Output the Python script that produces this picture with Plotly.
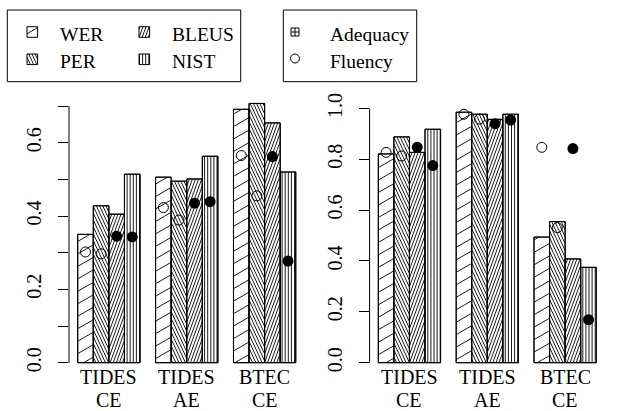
import math
import plotly.graph_objects as go

W, H = 617, 411
FONT = "Liberation Serif"

# ---------------- data ----------------
groups_line1 = ["TIDES", "TIDES", "BTEC"]
groups_line2 = ["CE", "AE", "CE"]
metrics = ["WER", "PER", "BLEUS", "NIST"]

left_wer = [0.350, 0.506, 0.691]
left_per = [0.428, 0.495, 0.707]
left_bleus = [0.405, 0.501, 0.654]
left_nist = [0.514, 0.563, 0.520]
left_open_wer = [0.302, 0.423, 0.565]
left_open_per = [0.297, 0.389, 0.455]
left_filled_bleus = [0.345, 0.435, 0.562]
left_filled_nist = [0.343, 0.439, 0.277]

right_wer = [0.821, 0.985, 0.494]
right_per = [0.888, 0.977, 0.555]
right_bleus = [0.827, 0.957, 0.408]
right_nist = [0.918, 0.977, 0.375]
right_open_wer = [0.827, 0.977, 0.847]
right_open_per = [0.813, 0.958, 0.531]
right_filled_bleus = [0.847, 0.940, 0.842]
right_filled_nist = [0.775, 0.954, 0.169]

left_yticks = [0.0, 0.1, 0.2, 0.3, 0.4, 0.5, 0.6, 0.7]
left_yticklabels = ["0.0", "", "0.2", "", "0.4", "", "0.6", ""]
right_yticks = [0.0, 0.2, 0.4, 0.6, 0.8, 1.0]
right_yticklabels = ["0.0", "0.2", "0.4", "0.6", "0.8", "1.0"]

legend_metrics = ["WER", "PER", "BLEUS", "NIST"]
legend_points = ["Adequacy", "Fluency"]

# ---------------- styles ----------------
# hatch: (angle in degrees, perpendicular spacing in px)
hatch = {"WER": (30, 10.8), "PER": (-65, 2.9), "BLEUS": (70, 2.9), "NIST": (90, 3.1)}


def hatch_segments(x0, x1, y0, y1, angle, spacing):
    """segments in pixel space (y up) filling rectangle."""
    th = math.radians(angle)
    d = (math.cos(th), math.sin(th))
    n = (-math.sin(th), math.cos(th))
    cs = [cx * n[0] + cy * n[1] for cx in (x0, x1) for cy in (y0, y1)]
    kmin = math.ceil(min(cs) / spacing)
    kmax = math.floor(max(cs) / spacing)
    segs = []
    for k in range(kmin, kmax + 1):
        c = k * spacing
        p = (c * n[0], c * n[1])
        tmin, tmax = -1e9, 1e9
        ok = True
        for a, lo, hi in ((0, x0, x1), (1, y0, y1)):
            if abs(d[a]) < 1e-12:
                if p[a] < lo or p[a] > hi:
                    ok = False
                continue
            t1 = (lo - p[a]) / d[a]
            t2 = (hi - p[a]) / d[a]
            tmin = max(tmin, min(t1, t2))
            tmax = min(tmax, max(t1, t2))
        if ok and tmax > tmin + 1e-9:
            segs.append(((p[0] + tmin * d[0], p[1] + tmin * d[1]),
                         (p[0] + tmax * d[0], p[1] + tmax * d[1])))
    return segs


panels = [
    dict(bars=[left_wer, left_per, left_bleus, left_nist],
         opens=[left_open_wer, left_open_per], filled=[left_filled_bleus, left_filled_nist],
         ticks=left_yticks, labels=left_yticklabels,
         xpx=(69.0, 304.5), zero_px=362.7, scale=366.7, xa="x", ya="y"),
    dict(bars=[right_wer, right_per, right_bleus, right_nist],
         opens=[right_open_wer, right_open_per], filled=[right_filled_bleus, right_filled_nist],
         ticks=right_yticks, labels=right_yticklabels,
         xpx=(369.6, 605.0), zero_px=362.7, scale=254.3, xa="x2", ya="y2"),
]

nb = len(metrics)
ng = len(groups_line1)
xlim = (1.0, ng * (nb + 1))
ext = 0.04 * (xlim[1] - xlim[0])
xr = (xlim[0] - ext, xlim[1] + ext)

fig = go.Figure()
layout_axes = {}
shapes = []
annotations = []

for pi, P in enumerate(panels):
    ymax = max(max(v) for v in P["bars"])
    yr = (-0.04 * ymax, 1.04 * ymax)
    ybot_down = P["zero_px"] - yr[0] * P["scale"]
    ytop_down = P["zero_px"] - yr[1] * P["scale"]
    xd = (P["xpx"][0] / W, P["xpx"][1] / W)
    yd = (1 - ybot_down / H, 1 - ytop_down / H)

    def to_px(x, y, P=P, yr=yr, ybot_down=ybot_down):
        px = P["xpx"][0] + (x - xr[0]) / (xr[1] - xr[0]) * (P["xpx"][1] - P["xpx"][0])
        py_up = (H - ybot_down) + (y - yr[0]) * P["scale"]
        return px, py_up

    def to_data(px, py_up, P=P, yr=yr, ybot_down=ybot_down):
        x = xr[0] + (px - P["xpx"][0]) / (P["xpx"][1] - P["xpx"][0]) * (xr[1] - xr[0])
        y = yr[0] + (py_up - (H - ybot_down)) / P["scale"]
        return x, y

    centers = [[g * (nb + 1) + 1 + i + 0.5 for g in range(ng)] for i in range(nb)]

    for i, m in enumerate(metrics):
        fig.add_trace(go.Bar(x=centers[i], y=P["bars"][i], width=1,
                             marker=dict(color="white", line=dict(color="black", width=1)),
                             xaxis=P["xa"], yaxis=P["ya"], showlegend=False, name=m))
    # hatching
    for i, m in enumerate(metrics):
        hx, hy = [], []
        ang, sp = hatch[m]
        for g in range(ng):
            xa0, ya0 = to_px(centers[i][g] - 0.5, 0)
            xa1, ya1 = to_px(centers[i][g] + 0.5, P["bars"][i][g])
            for (a, b) in hatch_segments(xa0, xa1, ya0, ya1, ang, sp):
                da = to_data(*a)
                db = to_data(*b)
                hx += [da[0], db[0], None]
                hy += [da[1], db[1], None]
        fig.add_trace(go.Scatter(x=hx, y=hy, mode="lines", line=dict(color="black", width=0.9),
                                 xaxis=P["xa"], yaxis=P["ya"], showlegend=False, hoverinfo="skip"))
    # bar outlines on top of hatch
    for i, m in enumerate(metrics):
        fig.add_trace(go.Bar(x=centers[i], y=P["bars"][i], width=1,
                             marker=dict(color="rgba(0,0,0,0)", line=dict(color="black", width=1)),
                             xaxis=P["xa"], yaxis=P["ya"], showlegend=False, hoverinfo="skip"))
    # points
    for j, vals in enumerate(P["opens"]):
        fig.add_trace(go.Scatter(x=centers[j], y=vals, mode="markers",
                                 marker=dict(symbol="circle-open", size=10, color="black", line=dict(width=1)),
                                 xaxis=P["xa"], yaxis=P["ya"], showlegend=False))
    for j, vals in enumerate(P["filled"]):
        fig.add_trace(go.Scatter(x=centers[j + 2], y=vals, mode="markers",
                                 marker=dict(symbol="circle", size=11, color="black"),
                                 xaxis=P["xa"], yaxis=P["ya"], showlegend=False))

    xname = "xaxis" if pi == 0 else "xaxis2"
    yname = "yaxis" if pi == 0 else "yaxis2"
    layout_axes[xname] = dict(domain=list(xd), range=list(xr), visible=False, fixedrange=True,
                              anchor=P["ya"], automargin=False)
    layout_axes[yname] = dict(domain=list(yd), range=list(yr), anchor=P["xa"], automargin=False,
                              tickmode="array", tickvals=P["ticks"], ticktext=P["labels"],
                              ticks="outside", ticklen=10, tickwidth=1, tickcolor="black",
                              tickangle=-90, tickfont=dict(family=FONT, size=20, color="black"),
                              showgrid=False, zeroline=False, showline=False, fixedrange=True,
                              ticklabelstandoff=9)
    shapes.append(dict(type="line", xref="paper", yref=P["ya"], x0=xd[0], x1=xd[0],
                       y0=P["ticks"][0], y1=P["ticks"][-1], line=dict(color="black", width=1)))
    for g in range(ng):
        for txt, ypx in ((groups_line1[g], 376.5), (groups_line2[g], 399.5)):
            annotations.append(dict(x=g * (nb + 1) + 1 + nb / 2, y=1 - ypx / H, xref=P["xa"], yref="paper",
                                    text=txt, showarrow=False, xanchor="center", yanchor="middle",
                                    borderpad=0,
                                    font=dict(family=FONT, size=20, color="black")))

# ---------------- legends (pixel overlay axis) ----------------
layout_axes["xaxis3"] = dict(domain=[0, 1], range=[0, W], visible=False, fixedrange=True,
                             anchor="y3", automargin=False)
layout_axes["yaxis3"] = dict(domain=[0, 1], range=[H, 0], visible=False, fixedrange=True,
                             anchor="x3", automargin=False)

for (bx0, by0, bx1, by1) in [(7.3, 10, 240.7, 81.7), (283.3, 10, 416.7, 81.7)]:
    shapes.append(dict(type="rect", xref="paper", yref="paper", x0=bx0 / W, x1=bx1 / W,
                       y0=1 - by1 / H, y1=1 - by0 / H, line=dict(color="black", width=1)))

sym_pos = {"WER": (32.3, 32.0), "PER": (32.3, 59.3), "BLEUS": (144.3, 32.0), "NIST": (144.3, 59.3)}
txt_x = {"WER": 58.3, "PER": 58.3, "BLEUS": 170.0, "NIST": 170.0}
half = 5.3
for m in legend_metrics:
    cx, cy = sym_pos[m]
    hx, hy = [], []
    ang, sp = hatch[m]
    for (a, b) in hatch_segments(cx - half, cx + half, (H - cy) - half, (H - cy) + half, ang, sp):
        hx += [a[0], b[0], None]
        hy += [H - a[1], H - b[1], None]
    fig.add_trace(go.Scatter(x=hx, y=hy, mode="lines", line=dict(color="black", width=0.9),
                             xaxis="x3", yaxis="y3", showlegend=False, hoverinfo="skip"))
    fig.add_trace(go.Scatter(x=[cx - half, cx + half, cx + half, cx - half, cx - half],
                             y=[cy - half, cy - half, cy + half, cy + half, cy - half],
                             mode="lines", line=dict(color="black", width=1),
                             xaxis="x3", yaxis="y3", showlegend=False, hoverinfo="skip"))
    annotations.append(dict(x=txt_x[m] / W, y=1 - (34.5 if cy < 40 else 61.5) / H,
                            xref="paper", yref="paper", text=m, showarrow=False,
                            xanchor="left", yanchor="middle",
                            font=dict(family=FONT, size=19.5, color="black")))

pt_syms = {"Adequacy": ("square-cross-open", 8, 32.0), "Fluency": ("circle-open", 9, 58.5)}
for name in legend_points:
    s, sz, cy = pt_syms[name]
    fig.add_trace(go.Scatter(x=[295.0], y=[cy], mode="markers",
                             marker=dict(symbol=s, size=sz, color="black", line=dict(width=1)),
                             xaxis="x3", yaxis="y3", showlegend=False, hoverinfo="skip"))
    annotations.append(dict(x=328.3 / W, y=1 - (cy + 2.5) / H, xref="paper", yref="paper",
                            text=name, showarrow=False, xanchor="left", yanchor="middle",
                            font=dict(family=FONT, size=19.5, color="black")))

fig.update_layout(template="none", width=W, height=H, margin=dict(l=0, r=0, t=0, b=0, pad=0),
                  paper_bgcolor="white", plot_bgcolor="rgba(0,0,0,0)",
                  barmode="overlay", showlegend=False, shapes=shapes, annotations=annotations,
                  font=dict(family=FONT, color="black"), **layout_axes)

fig.write_html("out.html", config={"displayModeBar": False},
               post_script="document.body.style.margin='0';")
